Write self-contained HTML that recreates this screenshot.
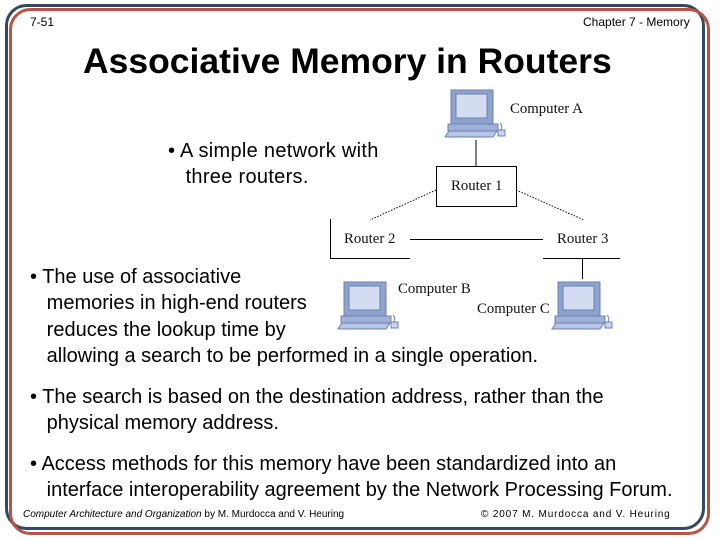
<!DOCTYPE html>
<html><head><style>
body{margin:0;width:720px;height:540px;background:#fff;position:relative;overflow:hidden;font-family:"Liberation Sans",sans-serif;color:#000}
.t{position:absolute;white-space:nowrap}
.s{font-family:"Liberation Serif",serif;font-size:14.8px;color:#111}
.b{font-size:20px;line-height:26.3px}
</style></head><body>
<svg width="720" height="540" style="position:absolute;left:0;top:0">
<rect x="6.5" y="5.5" width="697" height="523" rx="20" fill="none" stroke="#34495e" stroke-width="3"/>
<rect x="10.5" y="9.5" width="698" height="524" rx="20" fill="none" stroke="#b85444" stroke-width="3"/>
<g stroke="#000" stroke-width="1" fill="none">
<line x1="476" y1="140" x2="476" y2="166"/>
<rect x="436.5" y="166.5" width="80" height="40"/>
<line x1="436" y1="190" x2="370" y2="220" stroke-dasharray="1.5,1.5"/>
<line x1="516" y1="190" x2="584" y2="220" stroke-dasharray="1.5,1.5"/>
<polyline points="330.5,219 330.5,258.5 410,258.5"/>
<line x1="410" y1="239.5" x2="543" y2="239.5"/>
<polyline points="543,258.5 620,258.5"/>
<line x1="582.5" y1="258" x2="582.5" y2="279"/>
</g>
<defs>
<g id="pc">
<rect x="6" y="0" width="42" height="34" fill="#8fa3cf" stroke="#6d80b0"/>
<rect x="11" y="4" width="31" height="24" fill="#d3dcf0" stroke="#6d80b0"/>
<rect x="3" y="34" width="50" height="7" fill="#9fb1d8" stroke="#6d80b0"/>
<polygon points="0,47 4,41 52,41 48,47" fill="#b8c6e6" stroke="#6d80b0"/>
<rect x="53" y="40" width="7" height="6" fill="#c8d3ee" stroke="#6d80b0"/>
<path d="M56,40 Q58,36 55,33" stroke="#6d80b0" fill="none"/>
</g>
</defs>
<use href="#pc" x="445" y="90"/>
<use href="#pc" x="338" y="282"/>
<use href="#pc" x="552" y="282"/>
</svg>
<div class="t" style="left:30px;top:15px;font-size:12px">7-51</div>
<div class="t" style="left:583px;top:15px;font-size:12px">Chapter 7 - Memory</div>
<div class="t" style="left:83px;top:41px;font-size:35.5px;font-weight:bold">Associative Memory in Routers</div>
<div class="t b" style="left:168px;top:138px;letter-spacing:0.3px">• A simple network with<br>&nbsp;&nbsp;&nbsp;three routers.</div>
<div class="t s" style="left:510px;top:101px">Computer A</div>
<div class="t s" style="left:451px;top:178px">Router 1</div>
<div class="t s" style="left:344px;top:231px">Router 2</div>
<div class="t s" style="left:557px;top:231px">Router 3</div>
<div class="t s" style="left:398px;top:281px">Computer B</div>
<div class="t s" style="left:477px;top:301px">Computer C</div>
<div class="t b" style="left:30px;top:264px">• The use of associative<br>&nbsp;&nbsp;&nbsp;memories in high-end routers<br>&nbsp;&nbsp;&nbsp;reduces the lookup time by<br>&nbsp;&nbsp;&nbsp;allowing a search to be performed in a single operation.</div>
<div class="t b" style="left:30px;top:384px">• The search is based on the destination address, rather than the<br>&nbsp;&nbsp;&nbsp;physical memory address.</div>
<div class="t b" style="left:30px;top:451px">• Access methods for this memory have been standardized into an<br>&nbsp;&nbsp;&nbsp;interface interoperability agreement by the Network Processing Forum.</div>
<div class="t" style="left:23px;top:509px;font-size:10px"><i>Computer Architecture and Organization</i> by M. Murdocca and V. Heuring</div>
<div class="t" style="left:481px;top:509px;font-size:10px;letter-spacing:0.85px">© 2007 M. Murdocca and V. Heuring</div>
</body></html>
